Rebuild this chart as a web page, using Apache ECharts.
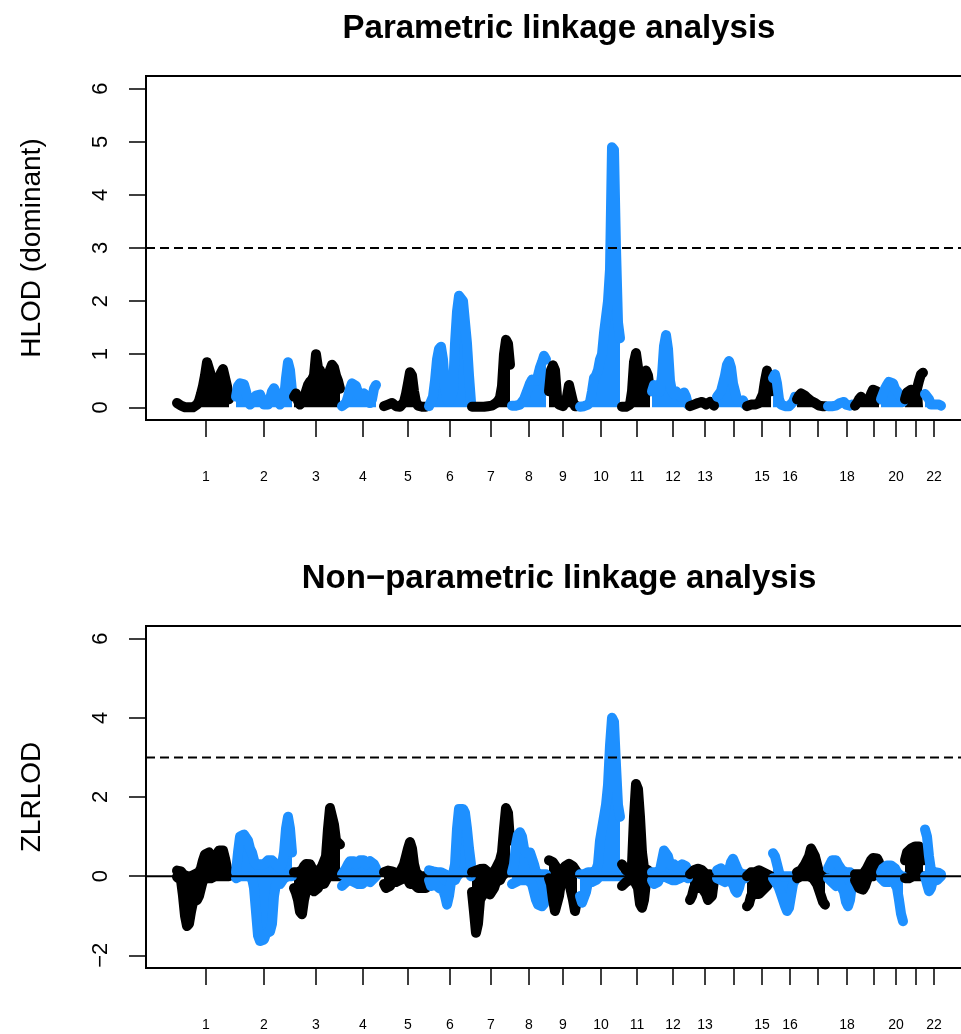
<!DOCTYPE html>
<html>
<head>
<meta charset="utf-8">
<script src="https://cdn.jsdelivr.net/npm/echarts@6/dist/echarts.min.js"></script>
<style>
html,body{margin:0;padding:0;background:#ffffff;}
#chart{width:961px;height:1034px;}
</style>
</head>
<body>
<div id="chart"></div>
<script>
// ---------- data ----------
const chromNames = ['1','2','3','4','5','6','7','8','9','10','11','12','13','14','15','16','17','18','19','20','21','22'];
// labels R printed (the others were dropped for overlap)
const chromLabels = ['1','2','3','4','5','6','7','8','9','10','11','12','13','','15','16','','18','','20','','22'];
// genome position (cM) of each chromosome's first marker
const chromStart = [0,265.5,526.5,742.5,931.5,1134,1327.5,1507.5,1674,1813.5,2002.5,2137.5,2308.5,2430,2565,2682,2790,2929.5,3051,3168,3276,3366];
// tick position (cM) of each chromosome
const chromTickPos = [130.5,391.5,625.5,837,1039.5,1228.5,1413,1584,1737,1908,2070,2232,2376,2504,2632.5,2758.5,2882,3015,3136.5,3235.5,3325.5,3406.5];
const markerStepCM = 9;

// HLOD (dominant), per chromosome, per marker
const hlodValues = [
  [0.08,0.08,0.03,0.01,0,0,0,0,0,0.02,0.05,0.12,0.25,0.4,0.6,0.85,0.87,0.6,0.45,0.4,0.45,0.55,0.65,0.72,0.7,0.4,0.15],
  [0.2,0.4,0.45,0.45,0.43,0.3,0.12,0.05,0.05,0.12,0.22,0.25,0.24,0.15,0.05,0.03,0.05,0.15,0.3,0.36,0.35,0.2,0.05,0.05,0.15,0.55,0.85,0.7,0.3],
  [0.2,0.26,0.12,0.05,0.06,0.15,0.3,0.42,0.48,0.52,0.6,1.0,0.74,0.7,0.55,0.45,0.5,0.55,0.7,0.8,0.75,0.6,0.5,0.35],
  [0.02,0.02,0.08,0.2,0.35,0.45,0.48,0.4,0.28,0.2,0.22,0.26,0.22,0.12,0.08,0.15,0.35,0.42],
  [0.02,0.02,0.05,0.08,0.08,0.05,0.02,0.01,0.01,0.02,0.1,0.25,0.45,0.66,0.6,0.3,0.1,0.03,0.01,0.01,0.01,0.01],
  [0.02,0.05,0.2,0.5,0.9,1.1,1.14,0.9,0.4,0.15,0.1,0.1,0.3,1.2,1.8,2.1,2.13,2.0,1.6,1.2,0.6,0.1],
  [0.01,0.01,0.01,0.01,0.01,0.01,0.01,0.02,0.02,0.02,0.03,0.05,0.08,0.12,0.18,0.4,1.0,1.27,1.2,0.8],
  [0.03,0.02,0.03,0.05,0.05,0.08,0.15,0.25,0.35,0.45,0.52,0.55,0.5,0.6,0.75,0.85,0.97,0.9],
  [0.3,0.7,0.79,0.7,0.2,0.05,0.02,0.02,0.05,0.2,0.42,0.4,0.1,0.02,0.02],
  [0.01,0.01,0.02,0.05,0.05,0.1,0.3,0.55,0.6,0.7,0.9,1.0,1.4,1.7,2.0,2.6,4.9,4.85,3.0,1.6,1.3],
  [0.01,0.01,0.01,0.02,0.05,0.3,0.85,1.02,0.75,0.4,0.5,0.62,0.69,0.6,0.3],
  [0.3,0.42,0.45,0.4,0.3,0.6,1.15,1.36,1.1,0.5,0.3,0.25,0.3,0.25,0.2,0.2,0.28,0.2,0.05],
  [0.02,0.03,0.05,0.07,0.08,0.1,0.1,0.08,0.05,0.05,0.1,0.08,0.03],
  [0.2,0.25,0.3,0.45,0.6,0.8,0.87,0.75,0.45,0.3,0.15,0.1,0.12,0.13,0.05],
  [0.02,0.05,0.05,0.05,0.05,0.05,0.08,0.1,0.25,0.5,0.69,0.5,0.3],
  [0.55,0.62,0.45,0.15,0.05,0.02,0.02,0.02,0.02,0.02,0.1,0.2],
  [0.15,0.22,0.26,0.28,0.22,0.18,0.15,0.12,0.1,0.08,0.05,0.03,0.02,0.02,0.02],
  [0.02,0.02,0.02,0.03,0.03,0.05,0.08,0.1,0.1,0.05,0.03,0.03,0.05],
  [0.03,0.08,0.15,0.2,0.18,0.1,0.1,0.15,0.25,0.33,0.36,0.3,0.15],
  [0.15,0.25,0.35,0.42,0.48,0.5,0.45,0.35,0.3,0.25,0.2,0.1],
  [0.15,0.28,0.3,0.33,0.25,0.22,0.35,0.5,0.62,0.65],
  [0.25,0.23,0.15,0.05,0.03,0.05,0.07,0.05,0.03]
];

// ZLRLOD, per chromosome, per marker: highest and lowest value seen around each marker
const zlrlodHigh = [
  [0.14,0.15,0.12,0.05,0,0,0,0,0,0.05,0.05,0.1,0.2,0.4,0.55,0.6,0.6,0.55,0.45,0.4,0.55,0.65,0.69,0.65,0.45,0.2,0.1],
  [0.1,0.6,1.0,1.05,1.05,1.0,0.9,0.7,0.6,0.4,0.3,0.3,0.3,0.25,0.3,0.35,0.4,0.4,0.4,0.35,0.3,0.25,0.2,0.3,0.6,1.2,1.5,1.2,0.6],
  [0.1,0.1,0.1,0.1,0.15,0.25,0.31,0.31,0.3,0.2,0.1,0.1,0.1,0.15,0.25,0.3,0.5,1.2,1.72,1.7,1.3,0.9,0.85,0.8],
  [0.05,0.1,0.2,0.3,0.38,0.4,0.38,0.3,0.35,0.4,0.42,0.4,0.3,0.35,0.38,0.39,0.3,0.2],
  [0.1,0.12,0.14,0.14,0.12,0.1,0.08,0.1,0.1,0.15,0.3,0.5,0.7,0.86,0.7,0.3,0.1,0.05,0,0,0,0],
  [0.15,0.15,0.12,0.1,0.1,0.1,0.1,0.05,0.05,0,0,0.05,0.05,0.3,1.2,1.7,1.7,1.7,1.6,1.2,0.7,0.3],
  [0.1,0.12,0.14,0.15,0.18,0.19,0.19,0.15,0.1,0.05,0.05,0.1,0.2,0.3,0.4,0.6,1.2,1.72,1.6,0.9],
  [0.1,0.3,0.8,1.05,1.11,1.0,0.7,0.6,0.55,0.6,0.56,0.3,0.1,0.05,0.05,0.05,0.05,0.05],
  [0.4,0.4,0.35,0.3,0.2,0.1,0.1,0.15,0.25,0.3,0.31,0.3,0.25,0.2,0.1],
  [0.05,0.05,0.05,0.05,0.1,0.1,0.1,0.1,0.15,0.3,0.9,1.2,1.5,1.8,2.3,3.3,4.0,3.9,2.8,1.8,1.5],
  [0.3,0.25,0.15,0.15,0.15,0.3,1.5,2.33,2.2,1.5,0.6,0.2,0.15,0.15,0.1],
  [0.1,0.1,0.1,0.1,0.15,0.4,0.65,0.69,0.5,0.3,0.25,0.3,0.25,0.2,0.25,0.3,0.32,0.25,0.1],
  [0.05,0.1,0.15,0.19,0.19,0.19,0.15,0.1,0.05,0.05,0.05,0.05,0],
  [0.15,0.2,0.2,0.1,0.05,0.05,0.15,0.35,0.44,0.4,0.2,0.1,0.05,0.05,0.05],
  [0,0.05,0.1,0.1,0.1,0.12,0.15,0.1,0.1,0.1,0.05,0.05,0],
  [0.58,0.5,0.3,0.1,0,0,0,0,0,0,0,0],
  [0.1,0.15,0.15,0.2,0.3,0.35,0.5,0.7,0.73,0.5,0.3,0.1,0,0,0],
  [0.2,0.3,0.4,0.44,0.4,0.3,0.25,0.15,0.1,0.1,0.1,0.1,0.05],
  [0.05,0.05,0.05,0.05,0.05,0.1,0.2,0.3,0.4,0.46,0.48,0.45,0.35],
  [0.1,0.2,0.25,0.27,0.27,0.27,0.25,0.2,0.1,0.05,0,0],
  [0.4,0.6,0.65,0.7,0.7,0.75,0.78,0.75,0.6,0.4],
  [1.18,1.0,0.5,0.15,0.1,0.1,0.1,0.08,0.05]
];
const zlrlodLow = [
  [-0.02,-0.04,-0.1,-0.5,-1.0,-1.26,-1.2,-0.9,-0.65,-0.6,-0.6,-0.5,-0.3,-0.1,-0.05,-0.05,0,-0.05,-0.05,0,0,0,0,0,0,0,0],
  [-0.05,-0.05,0,0,0,0,0,0,-0.05,-0.3,-0.9,-1.5,-1.64,-1.64,-1.6,-1.45,-1.45,-1.4,-1.2,-0.5,-0.2,-0.2,-0.2,-0.15,-0.05,0,0,0,0],
  [-0.3,-0.42,-0.6,-0.9,-0.96,-0.6,-0.38,-0.38,-0.3,-0.3,-0.38,-0.38,-0.3,-0.2,-0.2,-0.2,-0.1,0,0,0,0,0,0,0],
  [-0.25,-0.2,-0.15,-0.1,-0.1,-0.12,-0.15,-0.15,-0.2,-0.25,-0.2,-0.15,-0.1,-0.1,-0.15,-0.1,-0.05,0],
  [-0.2,-0.3,-0.3,-0.25,-0.15,-0.15,-0.15,-0.1,-0.1,-0.1,-0.05,0,-0.1,-0.2,-0.22,-0.2,-0.25,-0.3,-0.3,-0.3,-0.3,-0.3],
  [-0.1,-0.25,-0.25,-0.2,-0.25,-0.3,-0.35,-0.35,-0.5,-0.72,-0.5,-0.15,-0.15,-0.1,0,0,0.1,0.1,0.1,0.1,0.1,0],
  [-0.4,-0.9,-1.43,-1.2,-0.6,-0.5,-0.45,-0.4,-0.4,-0.46,-0.46,-0.3,-0.15,-0.1,-0.1,0,0,0.1,0.1,0.1],
  [-0.2,-0.2,-0.15,-0.15,-0.1,-0.1,-0.1,-0.1,-0.1,-0.1,-0.2,-0.4,-0.6,-0.72,-0.76,-0.76,-0.7,-0.3],
  [-0.05,-0.2,-0.6,-0.88,-0.88,-0.5,-0.15,-0.15,-0.15,-0.15,-0.15,-0.2,-0.6,-0.88,-0.6],
  [-0.5,-0.67,-0.67,-0.4,-0.15,-0.15,-0.15,-0.1,-0.1,-0.05,0,0,0,0,0,0,0,0,0,0,0],
  [-0.25,-0.25,-0.15,-0.1,-0.1,-0.1,-0.1,-0.1,-0.3,-0.7,-0.8,-0.6,-0.15,-0.15,-0.1],
  [-0.1,-0.2,-0.2,-0.15,-0.05,0,0,0,-0.05,-0.1,-0.1,-0.05,-0.1,-0.1,-0.05,-0.05,0,-0.05,-0.05],
  [-0.6,-0.5,-0.3,-0.3,-0.3,-0.25,-0.3,-0.35,-0.45,-0.6,-0.63,-0.5,-0.1],
  [-0.05,-0.05,-0.1,-0.15,-0.15,-0.15,-0.1,-0.1,-0.2,-0.35,-0.42,-0.3,-0.1,-0.05,-0.05],
  [-0.76,-0.7,-0.5,-0.45,-0.45,-0.4,-0.45,-0.4,-0.35,-0.3,-0.25,-0.2,-0.1],
  [-0.05,-0.1,-0.2,-0.3,-0.45,-0.6,-0.75,-0.88,-0.8,-0.5,-0.2,-0.1],
  [-0.05,-0.05,0,0,0,0,0,0,-0.05,-0.1,-0.2,-0.35,-0.5,-0.65,-0.72],
  [-0.05,-0.1,-0.15,-0.2,-0.25,-0.25,-0.2,-0.2,-0.4,-0.65,-0.76,-0.6,-0.2],
  [-0.1,-0.2,-0.3,-0.34,-0.34,-0.25,-0.1,0,0,0,0.05,0.05,0.05],
  [-0.05,-0.1,-0.15,-0.15,-0.15,-0.1,-0.1,-0.15,-0.3,-0.6,-0.95,-1.14],
  [-0.05,-0.05,-0.05,-0.05,0,0,0,0,0,0],
  [0,-0.2,-0.38,-0.3,-0.1,-0.1,-0.1,-0.05,0]
];

const topYTicks = [0,1,2,3,4,5,6];
const bottomYTicks = [-2,0,2,4,6];
const thresholdLOD = 3;

// ---------- chart ----------
const FONT = "'Liberation Sans', Arial, Helvetica, sans-serif";
const BLUE = '#1E90FF', BLACK = '#000000';
const X_MIN = -139.5, X_MAX = 3582;

function oneSeries(vals, c, axisIdx, tag) {
  const col = (c % 2 === 0) ? BLACK : BLUE;
  return {
    name: 'chr' + chromNames[c] + '_' + tag,
    type: 'line',
    xAxisIndex: axisIdx,
    yAxisIndex: axisIdx,
    data: vals.map(function (v, i) { return [chromStart[c] + i * markerStepCM, v]; }),
    showSymbol: false,
    symbol: 'none',
    lineStyle: { color: col, width: 10, cap: 'round', join: 'round' },
    areaStyle: { color: col, opacity: 1, origin: 'auto' },
    itemStyle: { color: col },
    silent: true,
    animation: false,
    z: 2
  };
}

function hLine(y, axisIdx, dashed) {
  return {
    type: 'line',
    xAxisIndex: axisIdx,
    yAxisIndex: axisIdx,
    data: [[X_MIN, y], [X_MAX, y]],
    showSymbol: false,
    symbol: 'none',
    lineStyle: { color: '#000', width: 2, type: dashed ? [9, 5] : 'solid' },
    silent: true,
    animation: false,
    z: 10
  };
}

const labelPos = chromTickPos.filter(function (p, i) { return chromLabels[i] !== ''; });
function xLabelFmt(v) {
  let best = 0, bd = Infinity;
  chromTickPos.forEach(function (p, i) { const d = Math.abs(p - v); if (d < bd) { bd = d; best = i; } });
  return chromLabels[best];
}
function yLabelFmt(v) { return v < 0 ? '\u2212' + Math.abs(v) : String(v); }

function xAxisCfg(gridIdx) {
  return {
    type: 'value', gridIndex: gridIdx, min: X_MIN, max: X_MAX,
    axisLine: { show: false, onZero: false },
    axisTick: { show: true, inside: false, length: 17, customValues: chromTickPos,
                lineStyle: { color: '#000', width: 1.5 } },
    axisLabel: { show: true, customValues: labelPos, formatter: xLabelFmt, margin: 50,
                 fontSize: 14, color: '#000', fontFamily: FONT, hideOverlap: false },
    splitLine: { show: false }
  };
}
function yAxisCfg(gridIdx, min, max, ticks, name, gap) {
  return {
    type: 'value', gridIndex: gridIdx, min: min, max: max,
    axisLine: { show: false, onZero: false },
    axisTick: { show: true, inside: false, length: 17, customValues: ticks,
                lineStyle: { color: '#000', width: 1.5 } },
    axisLabel: { show: true, customValues: ticks, formatter: yLabelFmt, rotate: 90, margin: 34,
                 fontSize: 22, color: '#000', fontFamily: FONT },
    splitLine: { show: false },
    name: name, nameLocation: 'middle', nameRotate: 90, nameGap: gap,
    nameTextStyle: { fontSize: 28, color: '#000', fontFamily: FONT }
  };
}

const series = [];
hlodValues.forEach(function (vals, c) { series.push(oneSeries(vals, c, 0, 'hlod')); });
zlrlodHigh.forEach(function (vals, c) {
  series.push(oneSeries(vals, c, 1, 'zhi'));
  series.push(oneSeries(zlrlodLow[c], c, 1, 'zlo'));
});
series.push(hLine(thresholdLOD, 0, true), hLine(thresholdLOD, 1, true), hLine(0, 1, false));

const gridBase = { left: 146, width: 827, show: true, borderColor: '#000', borderWidth: 2,
                   backgroundColor: 'transparent', containLabel: false, outerBoundsMode: 'none' };

const option = {
  backgroundColor: '#ffffff',
  animation: false,
  title: [
    { text: 'Parametric linkage analysis', left: 559, top: 12, textAlign: 'center', padding: 0,
      textStyle: { fontSize: 33, fontWeight: 'bold', color: '#000', fontFamily: FONT } },
    { text: 'Non\u2212parametric linkage analysis', left: 559, top: 562, textAlign: 'center', padding: 0,
      textStyle: { fontSize: 33, fontWeight: 'bold', color: '#000', fontFamily: FONT } }
  ],
  grid: [
    Object.assign({}, gridBase, { top: 76, height: 344 }),
    Object.assign({}, gridBase, { top: 626, height: 342 })
  ],
  xAxis: [xAxisCfg(0), xAxisCfg(1)],
  yAxis: [
    yAxisCfg(0, -0.24, 6.24, topYTicks, 'HLOD (dominant)', 100),
    yAxisCfg(1, -2.32, 6.32, bottomYTicks, 'ZLRLOD', 100)
  ],
  series: series
};

const chart = echarts.init(document.getElementById('chart'), null, { renderer: 'canvas' });
chart.setOption(option);
</script>
</body>
</html>
